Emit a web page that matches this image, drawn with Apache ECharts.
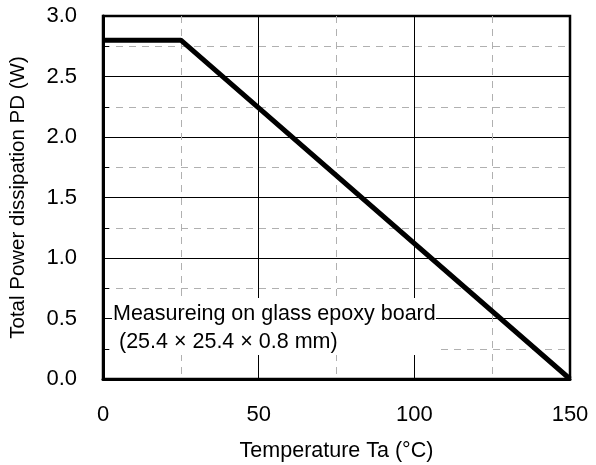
<!DOCTYPE html>
<html>
<head>
<meta charset="utf-8">
<script src="https://cdn.jsdelivr.net/npm/echarts@6/dist/echarts.min.js"></script>
<style>
  html, body { margin: 0; padding: 0; background: #fff; }
  #chart { width: 596px; height: 465px; }
</style>
</head>
<body>
<div id="chart"></div>
<script>
// derating curve: temperature (°C) vs total power dissipation (W)
var temps = [0, 25, 150];
var power = [2.8, 2.8, 0];
var xTicks = [0, 50, 100, 150];
var yTicks = [0, 0.5, 1.0, 1.5, 2.0, 2.5, 3.0];
var noteLines = ['Measureing on glass epoxy board', ' (25.4 × 25.4 × 0.8 mm)'];

var font = 'Liberation Sans, Arial, sans-serif';
var myChart = echarts.init(document.getElementById('chart'));

var pts = temps.map(function (t, i) { return [t, power[i]]; });

var option = {
    animation: false,
    backgroundColor: '#fff',
    grid: {
        left: 103, right: 26, top: 16, bottom: 86,
        outerBoundsMode: 'none',
        show: true,
        borderColor: '#000',
        borderWidth: 2.5
    },
    xAxis: {
        type: 'value',
        min: xTicks[0], max: xTicks[xTicks.length - 1], interval: 50,
        name: 'Temperature Ta (°C)',
        nameLocation: 'middle',
        nameGap: 61,
        nameTextStyle: { color: '#000', fontSize: 21.5, fontFamily: font },
        axisLine: { show: true, lineStyle: { color: '#000', width: 3 } },
        axisTick: { show: false },
        axisLabel: { color: '#000', fontSize: 22, fontFamily: font, margin: 25 },
        splitLine: { show: true, lineStyle: { color: '#000', width: 1 } },
        minorTick: { show: false, splitNumber: 2 },
        minorSplitLine: { show: true, lineStyle: { color: '#b0b0b0', width: 1, type: [7, 6] } }
    },
    yAxis: {
        type: 'value',
        min: yTicks[0], max: yTicks[yTicks.length - 1], interval: 0.5,
        name: 'Total Power dissipation PD (W)',
        nameLocation: 'middle',
        nameGap: 74,
        nameTextStyle: { color: '#000', fontSize: 20.5, fontFamily: font },
        axisLine: { show: true, lineStyle: { color: '#000', width: 3 } },
        axisTick: { show: true, inside: true, length: 6, lineStyle: { color: '#000', width: 1 } },
        minorTick: { show: true, splitNumber: 2, length: 6, lineStyle: { color: '#000', width: 1 } },
        axisLabel: {
            color: '#000', fontSize: 22, fontFamily: font, margin: 26,
            formatter: function (v) { return v.toFixed(1); }
        },
        splitLine: { show: true, lineStyle: { color: '#000', width: 1 } },
        minorSplitLine: { show: true, lineStyle: { color: '#b0b0b0', width: 1, type: [7, 6] } }
    },
    graphic: [{
        type: 'rect',
        left: 112, top: 298,
        z: 100,
        shape: { width: 324, height: 57 },
        style: { fill: '#fff' }
    }, {
        type: 'text',
        left: 113, top: 300,
        z: 101,
        style: {
            text: noteLines.join('\n'),
            fill: '#000',
            font: '21.5px ' + font,
            lineHeight: 28
        }
    }],
    series: [{
        type: 'line',
        data: pts,
        showSymbol: false,
        symbol: 'none',
        clip: false,
        z: 120,
        lineStyle: { color: '#000', width: 5 }
    }]
};
myChart.setOption(option);
</script>
</body>
</html>
